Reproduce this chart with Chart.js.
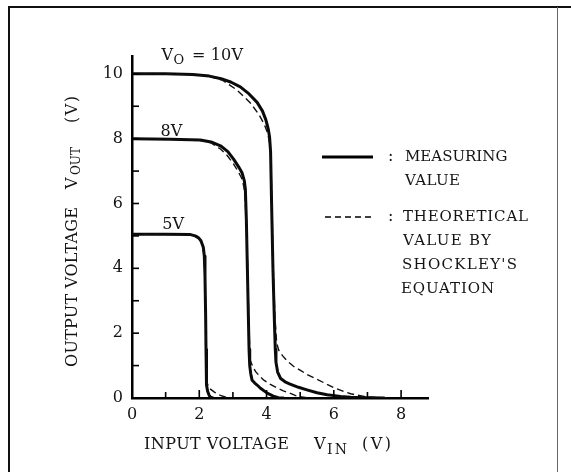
<!DOCTYPE html>
<html><head><meta charset="utf-8">
<script src="https://cdn.jsdelivr.net/npm/chart.js@4.4.1/dist/chart.umd.min.js"></script>
<style>html,body{margin:0;padding:0;background:#fff}</style>
</head><body>
<canvas id="c" width="571" height="472" style="width:571px;height:472px;display:block"></canvas>
<script>
// ---- data (V_IN, V_OUT) ----
const measured10 = [[0,10],[1.0,10],[1.8,9.98],[2.3,9.93],[2.65,9.85],[2.95,9.74],[3.22,9.6],[3.48,9.38],[3.72,9.12],[3.88,8.85],[3.98,8.58],[4.05,8.3],[4.09,8.05],[4.12,7.6],[4.15,6],[4.19,4],[4.23,2.5],[4.26,1.5],[4.28,1.1],[4.33,0.8],[4.42,0.6],[4.55,0.5],[4.7,0.43],[4.95,0.33],[5.2,0.25],[5.5,0.16],[5.8,0.1],[6.2,0.05],[6.5,0.02],[7.0,0.005],[7.5,0]];
const theory10 = [[0,10],[1.8,9.98],[2.3,9.92],[2.7,9.8],[3.12,9.5],[3.52,9.1],[3.77,8.75],[3.93,8.45],[4.04,8.15],[4.1,7.8],[4.13,7.3],[4.16,6],[4.2,4],[4.25,2.5],[4.3,1.7],[4.36,1.48],[4.48,1.3],[4.61,1.15],[4.8,0.98],[5.01,0.85],[5.21,0.72],[5.5,0.58],[5.8,0.42],[6.0,0.32],[6.3,0.2],[6.5,0.13],[6.9,0.05],[7.3,0.01],[7.6,0]];
const measured8 = [[0,8],[1.14,7.98],[2.03,7.96],[2.35,7.9],[2.63,7.78],[2.85,7.6],[3.02,7.37],[3.17,7.13],[3.27,6.95],[3.34,6.7],[3.37,6.44],[3.4,5.5],[3.43,4],[3.46,2.5],[3.48,1.5],[3.5,1.0],[3.53,0.75],[3.57,0.55],[3.65,0.46],[3.72,0.4],[3.82,0.3],[4.02,0.15],[4.2,0.06],[4.35,0.01],[4.5,0]];
const theory8 = [[0,8],[1.2,7.98],[2.0,7.95],[2.35,7.87],[2.63,7.68],[2.83,7.48],[3.0,7.25],[3.15,7.0],[3.26,6.78],[3.33,6.5],[3.37,6.0],[3.41,5],[3.44,4],[3.47,2.5],[3.5,1.5],[3.52,1.15],[3.58,1.0],[3.67,0.82],[3.8,0.67],[3.92,0.55],[4.1,0.43],[4.32,0.31],[4.5,0.22],[4.71,0.14],[4.85,0.08],[5.0,0.04],[5.2,0.01],[5.4,0]];
const measured5 = [[0,5.05],[1.0,5.05],[1.74,5.04],[1.88,5.0],[1.98,4.94],[2.05,4.85],[2.12,4.65],[2.15,4.38],[2.17,3.76],[2.19,2.5],[2.2,1.5],[2.21,0.8],[2.22,0.4],[2.25,0.2],[2.29,0.09],[2.33,0.03],[2.4,0]];
const theory5 = [[0,5.05],[1.74,5.04],[1.9,4.99],[2.0,4.9],[2.08,4.75],[2.14,4.45],[2.17,3.8],[2.19,2.5],[2.21,1.5],[2.22,0.8],[2.24,0.45],[2.3,0.3],[2.45,0.18],[2.63,0.08],[2.8,0.02],[2.95,0]];
const xTickLabels = ['0','2','4','6','8'];
const yTickLabels = ['0','2','4','6','8','10'];
const curveLabels = [{t:'8V',x:0.85,y:8.2},{t:'5V',x:0.9,y:5.35}];

const FONT = '"DejaVu Serif", "Liberation Serif", serif';
const INK = '#141414';
const pts = a => a.map(p => ({x:p[0], y:p[1]}));
const solid = (d) => ({data:pts(d), borderColor:'#0a0a0a', borderWidth:3, pointRadius:0, tension:0, borderJoinStyle:'round', borderCapStyle:'round', fill:false});
const dashed = (d) => ({data:pts(d), borderColor:'#111', borderWidth:1.4, borderDash:[7,4], pointRadius:0, tension:0, fill:false});

// draw text; if target width given, spread letters to fit it (typewriter look)
function txt(ctx, s, x, y, size, target) {
  ctx.font = size + 'px ' + FONT;
  ctx.letterSpacing = '0px';
  ctx.textAlign = 'left';
  ctx.textBaseline = 'middle';
  let sp = 0;
  if (target && s.length > 1) {
    const w0 = ctx.measureText(s).width;
    sp = Math.max(0, (target - w0) / (s.length - 1));
  }
  ctx.letterSpacing = sp + 'px';
  ctx.fillText(s, x, y);
  ctx.letterSpacing = '0px';
}

const deco = {
  id:'deco',
  afterDraw(chart) {
    const ctx = chart.ctx, xs = chart.scales.x, ys = chart.scales.y;
    ctx.save();
    // frame
    ctx.strokeStyle = '#111'; ctx.lineWidth = 2;
    ctx.beginPath(); ctx.moveTo(9, 472); ctx.lineTo(9, 7); ctx.lineTo(571, 7); ctx.stroke();
    ctx.strokeStyle = '#666'; ctx.lineWidth = 1;
    ctx.beginPath(); ctx.moveTo(557.5, 7); ctx.lineTo(557.5, 472); ctx.stroke();
    // inward tick marks
    ctx.strokeStyle = '#000'; ctx.lineWidth = 1.6;
    const x0 = xs.getPixelForValue(0), y0 = ys.getPixelForValue(0);
    for (let v = 1; v <= 10; v++) { const py = ys.getPixelForValue(v); ctx.beginPath(); ctx.moveTo(x0, py); ctx.lineTo(x0 + 7, py); ctx.stroke(); }
    for (let v = 1; v <= 8; v++) { const px = xs.getPixelForValue(v); ctx.beginPath(); ctx.moveTo(px, y0); ctx.lineTo(px, y0 - (v % 2 ? 6 : 8)); ctx.stroke(); }
    ctx.fillStyle = INK;
    // curve labels
    let px = xs.getPixelForValue(0.88), py = ys.getPixelForValue(10.55);
    txt(ctx, 'V', px, py, 16);
    txt(ctx, 'O', px + 12, py + 5, 13);
    txt(ctx, '= 10V', 192, py, 16, 51);
    curveLabels.forEach(l => txt(ctx, l.t, xs.getPixelForValue(l.x), ys.getPixelForValue(l.y), 16, 21));
    // legend
    ctx.strokeStyle = '#000'; ctx.lineWidth = 3;
    ctx.beginPath(); ctx.moveTo(322, 157); ctx.lineTo(373, 157); ctx.stroke();
    ctx.lineWidth = 1.5; ctx.setLineDash([6,4]);
    ctx.beginPath(); ctx.moveTo(325, 217); ctx.lineTo(373, 217); ctx.stroke();
    ctx.setLineDash([]);
    txt(ctx, ':', 388, 157, 16); txt(ctx, 'MEASURING', 405, 157, 15, 100);
    txt(ctx, 'VALUE', 405, 181, 15, 55);
    txt(ctx, ':', 388, 217, 16); txt(ctx, 'THEORETICAL', 403, 217, 15, 125);
    txt(ctx, 'VALUE BY', 403, 241, 15, 88);
    txt(ctx, "SHOCKLEY'S", 402, 265, 15, 115);
    txt(ctx, 'EQUATION', 401, 289, 15, 93);
    // x title
    txt(ctx, 'INPUT VOLTAGE', 144, 445, 16, 145);
    txt(ctx, 'V', 314, 445, 16);
    txt(ctx, 'IN', 327, 450, 14, 20);
    txt(ctx, '(V)', 362, 445, 16, 29);
    // y title
    ctx.translate(73, 367); ctx.rotate(-Math.PI/2);
    txt(ctx, 'OUTPUT VOLTAGE', 0, 0, 16, 160);
    txt(ctx, 'V', 178, 0, 16);
    txt(ctx, 'OUT', 192, 4, 12, 28);
    txt(ctx, '(V)', 244, 0, 16, 27);
    ctx.restore();
  }
};

new Chart(document.getElementById('c'), {
  type:'line',
  data:{datasets:[dashed(theory10), dashed(theory8), dashed(theory5), solid(measured10), solid(measured8), solid(measured5)]},
  options:{
    responsive:false, animation:false, devicePixelRatio:1,
    layout:{padding:{left:0, right:143, top:56, bottom:0}},
    plugins:{legend:{display:false}, tooltip:{enabled:false}},
    scales:{
      x:{type:'linear', min:0, max:8.8,
        afterBuildTicks:s=>{ s.ticks = xTickLabels.map(v=>({value:+v})); },
        ticks:{padding:7, color:INK, font:{family:FONT, size:16}, maxRotation:0, callback:v=>String(v)},
        grid:{display:false, drawTicks:false},
        border:{display:true, color:'#000', width:2.5},
        afterFit:s=>{ s.height = 74; }
      },
      y:{type:'linear', min:0, max:10.55,
        afterBuildTicks:s=>{ s.ticks = yTickLabels.map(v=>({value:+v})); },
        ticks:{padding:9, color:INK, font:{family:FONT, size:16}, callback:v=>String(v)},
        grid:{display:false, drawTicks:false},
        border:{display:true, color:'#000', width:2.5},
        afterFit:s=>{ s.width = 132; }
      }
    }
  },
  plugins:[deco]
});
</script>
</body></html>
